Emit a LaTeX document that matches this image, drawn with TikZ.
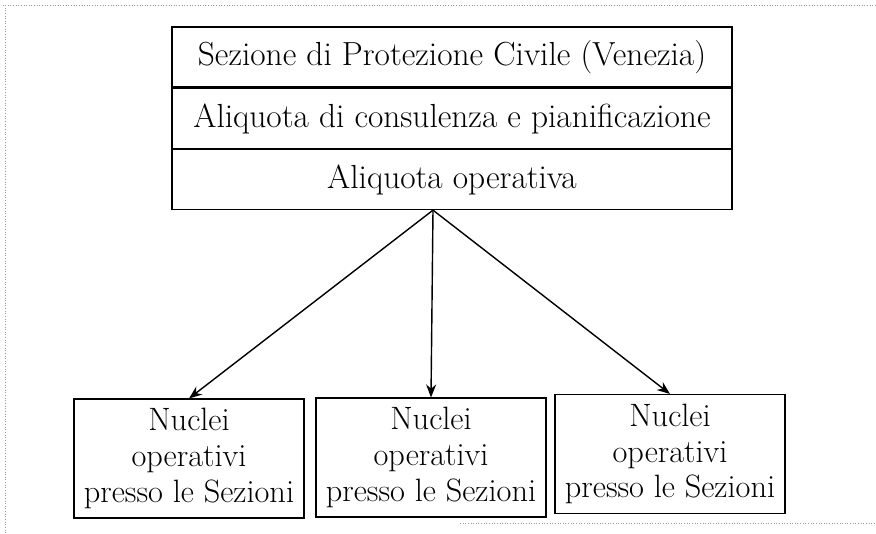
\documentclass[tikz,border=0pt]{standalone}
\usepackage{tikz}
\usetikzlibrary{arrows.meta, positioning}

\begin{document}
\begin{tikzpicture}[font=\fontsize{19}{22}\selectfont,
		row/.style={draw, semithick, minimum width=11.2cm, minimum height=1.2cm, inner sep=0pt},
		nucleo/.style={draw, semithick, minimum width=4.6cm, minimum height=2.38cm, align=center, inner sep=2pt, font=\fontsize{18.4}{20.3}\selectfont},
		freccia/.style={-{Stealth[length=2.6mm, width=2mm]}, thick},
		bordo/.style={gray!80, densely dotted, line width=0.5pt}]
		\useasboundingbox (0,0) rectangle (17.52,10.68);
		
		% Scan edges
		\draw[bordo] (0.05,10.58) -- (17.52,10.58);
		\draw[bordo] (0.1,10.58) -- (0.1,0);
		\draw[bordo] (9.2,0.22) -- (17.52,0.22);
		
		% Top box (three rows)
		\node[row, line width=1.2pt] (sezione) at (9.04,9.54) {Sezione di Protezione Civile (Venezia)};
		\node[row, below=0pt of sezione] (consulenza) {Aliquota di consulenza e pianificazione};
		\node[row, below=0pt of consulenza] (operativa) {Aliquota operativa};
		\coordinate (apice) at ([xshift=-0.38cm]operativa.south);
		
		% Bottom boxes
		\node[nucleo] (nucleoA) at (3.78,1.51) {Nuclei\\operativi\\presso le Sezioni};
		\node[nucleo] (nucleoB) at (8.62,1.53) {Nuclei\\operativi\\presso le Sezioni};
		\node[nucleo] (nucleoC) at (13.40,1.60) {Nuclei\\operativi\\presso le Sezioni};
		
		% Arrows
		\draw[freccia] (apice) -- (nucleoA.north);
		\draw[freccia] (apice) -- (nucleoB.north);
		\draw[freccia] (apice) -- (nucleoC.north);
	\end{tikzpicture}
\end{document}
